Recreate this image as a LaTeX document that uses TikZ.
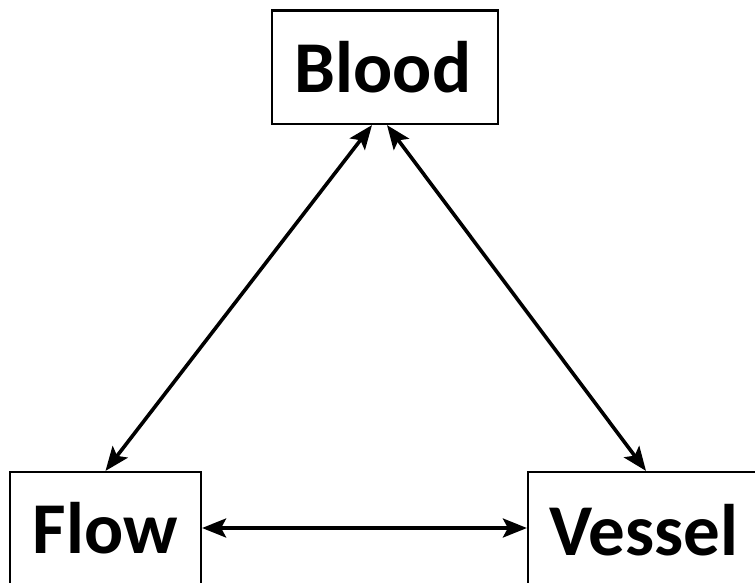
\documentclass[tikz,border=0pt]{standalone}
\usepackage{fontspec}
\setmainfont{Carlito}
\usetikzlibrary{arrows.meta}
\tikzset{
  boxnode/.style={draw=black,line width=2.2pt,rectangle,inner sep=0pt},
  txtlabel/.style={anchor=base,inner sep=0pt,font=\fontsize{73}{80}\selectfont\bfseries},
  conn/.style={draw=black,line width=3.6pt,>={Stealth[length=24pt,width=19pt,inset=5pt]},<->}
}
\begin{document}
\begin{tikzpicture}[x=1pt,y=-1pt]
\useasboundingbox (0,0) rectangle (755,582);
\clip (0,0) rectangle (755,582);
\node[boxnode,minimum width=226pt,minimum height=113.5pt] (blood) at (385,67.25) {};
\node[boxnode,minimum width=191pt,minimum height=112pt] (flow) at (105.5,528) {};
\node[boxnode,minimum width=236pt,minimum height=112pt] (vessel) at (646,528) {};
\node[txtlabel] (tblood) at (383,92) {Blood};
\node[txtlabel] (tflow) at (105,553) {Flow};
\node[txtlabel] (tvessel) at (644,555) {Vessel};
\draw[conn] ([xshift=-13pt]blood.south) -- (flow.north);
\draw[conn] ([xshift=2pt]blood.south) -- (vessel.north);
\draw[conn] (flow.east) -- (vessel.west);
\end{tikzpicture}
\end{document}
